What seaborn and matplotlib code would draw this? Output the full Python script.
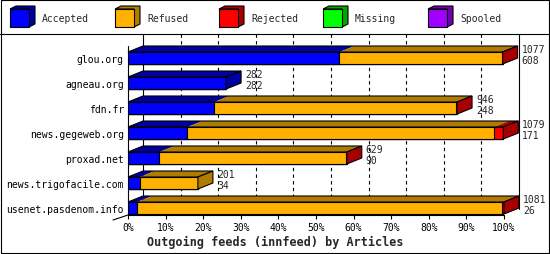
import numpy as np
import pandas as pd
import matplotlib
matplotlib.use("Agg")
import matplotlib.pyplot as plt
import seaborn as sns
from matplotlib.patches import Polygon, Rectangle

# ---------------- data ----------------
hosts = ["glou.org", "agneau.org", "fdn.fr", "news.gegeweb.org",
         "proxad.net", "news.trigofacile.com", "usenet.pasdenom.info"]
offered = [1077, 282, 946, 1079, 629, 201, 1081]
accepted = [608, 282, 248, 171, 90, 34, 26]
refused = [467, 0, 695, 882, 537, 167, 1049]
rejected = [2, 0, 3, 26, 2, 0, 6]
missing = [0, 0, 0, 0, 0, 0, 0]
spooled = [0, 0, 0, 0, 0, 0, 0]
series_names = ["Accepted", "Refused", "Rejected", "Missing", "Spooled"]
front_colors = ["#0000ff", "#ffb000", "#ff0000", "#00ff00", "#a000ff"]
dark_colors = ["#0000a0", "#b07c00", "#a80000", "#00a800", "#7000b0"]
tick_vals = [0, 10, 20, 30, 40, 50, 60, 70, 80, 90, 100]
tick_labels = ["0%", "10%", "20%", "30%", "40%", "50%", "60%", "70%", "80%", "90%", "100%"]
xlabel = "Outgoing feeds (innfeed) by Articles"

sns.set_theme(style="white")
plt.rcParams["font.family"] = ["DejaVu Sans Mono"]

W, H = 550, 255
fig = plt.figure(figsize=(W / 100, H / 100), dpi=100)
fig.patch.set_facecolor("white")

# overlay in pixel coordinates for frame + legend
ov = fig.add_axes([0, 0, 1, 1])
ov.set_xlim(0, W)
ov.set_ylim(H, 0)
ov.axis("off")

L, R, T, B = 128, 504, 35, 216
ax = fig.add_axes([L / W, (H - B) / H, (R - L) / W, (B - T) / H])
ax.patch.set_alpha(0)

scale = max(offered)
segs = [accepted, refused, rejected, missing, spooled]
pct = np.array([np.array(s) / scale * 100 for s in segs])
cum = np.cumsum(pct, axis=0)

bar_h = 0.48
for k in range(len(segs) - 1, -1, -1):
    df = pd.DataFrame({"host": hosts, "v": cum[k]})
    sns.barplot(data=df, x="v", y="host", orient="h", color=front_colors[k],
                saturation=1, width=bar_h, edgecolor="black", linewidth=0.8,
                ax=ax, zorder=3)

ylo, yhi = 6.28, -0.96
ax.set_xlim(0, 100)
ax.set_ylim(ylo, yhi)

dx = 15 / (R - L) * 100
dy = 6 / 25

# gridlines on back wall
for p in tick_vals[1:-1]:
    ax.plot([p + dx, p + dx], [yhi, ylo - dy], ls=(0, (3, 3)), color="black",
            lw=0.8, zorder=1, clip_on=False)
ax.plot([dx, dx], [yhi, ylo - dy], color="black", lw=0.8, zorder=1, clip_on=False)
ax.plot([100 + dx, 100 + dx], [yhi, ylo - dy], color="black", lw=0.8, zorder=1, clip_on=False)
ax.plot([0, 0], [-0.48, ylo], color="black", lw=0.8, zorder=2, clip_on=False)
ax.plot([-dx, 0], [ylo + 0.2, ylo], color="black", lw=0.8, zorder=2, clip_on=False)
ax.plot([0, 100], [ylo, ylo], color="black", lw=0.8, zorder=2, clip_on=False)

# 3D faces
for i in range(len(hosts)):
    top = i - bar_h / 2
    bot = i + bar_h / 2
    end = cum[-1][i]
    last = 0
    for k in range(len(segs)):
        w = pct[k][i]
        if w <= 0:
            continue
        last = k
        x0, x1 = cum[k][i] - w, cum[k][i]
        ax.add_patch(Polygon([(x0, top), (x1, top), (x1 + dx, top - dy), (x0 + dx, top - dy)],
                             closed=True, facecolor=dark_colors[k], edgecolor="none",
                             zorder=4, clip_on=False))
    ax.add_patch(Polygon([(0, top), (end, top), (end + dx, top - dy), (dx, top - dy)],
                         closed=True, fill=False, edgecolor="black", lw=0.8,
                         zorder=5, clip_on=False))
    ax.add_patch(Polygon([(end, top), (end + dx, top - dy), (end + dx, bot - dy), (end, bot)],
                         closed=True, facecolor=dark_colors[last], edgecolor="black",
                         lw=0.8, zorder=5, clip_on=False))
    ax.annotate(str(offered[i]), xy=(end + dx, i), xytext=(4, 9),
                textcoords="offset pixels", ha="left", va="center", fontsize=7,
                annotation_clip=False)
    ax.annotate(str(accepted[i]), xy=(end + dx, i), xytext=(4, -2),
                textcoords="offset pixels", ha="left", va="center", fontsize=7,
                annotation_clip=False)

ax.set_xticks(tick_vals)
ax.set_xticklabels(tick_labels, fontsize=7)
ax.set_yticks(range(len(hosts)))
ax.set_yticklabels(hosts, fontsize=7)
ax.tick_params(axis="x", bottom=True, length=3, width=0.8, pad=2, colors="black")
ax.tick_params(axis="y", left=False, length=0, pad=3, colors="black")
ax.set_xlabel("")
ax.set_ylabel("")
for s in ax.spines.values():
    s.set_visible(False)

fig.text(275 / W, 1 - 242 / H, xlabel, ha="center", va="center",
         fontsize=8.5, fontweight="bold")

# frame
ov.add_patch(Rectangle((0.5, 0.5), W - 1.5, H - 1.5, fill=False, edgecolor="black", lw=0.8))
ov.plot([0, W], [35, 35], color="black", lw=0.8)

# legend
lx = [10, 115, 219, 323, 428]
for k, name in enumerate(series_names):
    x = lx[k]
    ov.add_patch(Polygon([(x, 10), (x + 6, 7), (x + 25, 7), (x + 25, 25), (x + 19, 28), (x + 19, 10)],
                         closed=True, facecolor=dark_colors[k], edgecolor="black", lw=0.8))
    ov.add_patch(Rectangle((x, 10), 19, 18, facecolor=front_colors[k], edgecolor="black", lw=0.8))
    ov.text(x + 32, 19.5, name, ha="left", va="center", fontsize=7)

fig.savefig("out.png", dpi=100)
